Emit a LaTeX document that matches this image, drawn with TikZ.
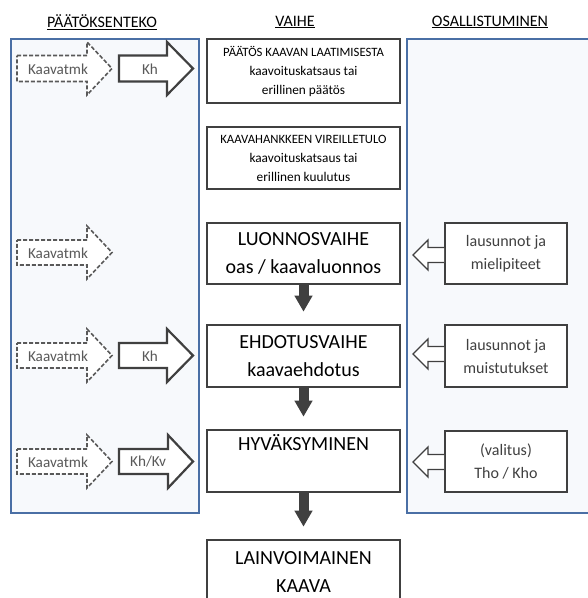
\documentclass[tikz,border=0pt]{standalone}
\usepackage{fontspec}
\setmainfont{Carlito}
\usetikzlibrary{arrows.meta}
\definecolor{panelfill}{HTML}{F7F9FC}
\definecolor{panelline}{HTML}{4A6FA5}
\definecolor{boxline}{HTML}{404040}
\definecolor{labelgray}{HTML}{595959}
\tikzset{
  panel/.style={draw=panelline, fill=panelfill, line width=1.6pt, inner sep=0pt},
  phasebox/.style={draw=boxline, fill=white, line width=2.6pt, inner sep=0pt, minimum width=193pt, align=center, text=black},
  smalltext/.style={font=\fontsize{13.3}{19}\selectfont},
  bigtext/.style={font=\fontsize{20}{28}\selectfont},
  partbox/.style={draw=boxline, fill=white, line width=2pt, inner sep=0pt, minimum width=122pt, align=center, text=boxline, font=\fontsize{16}{23}\selectfont},
  heading/.style={font=\fontsize{16}{18}\selectfont, text=black},
  arrlabel/.style={font=\fontsize{15.2}{17}\selectfont, text=labelgray, inner sep=0pt},
  solidblock/.style={draw=boxline, fill=white, line width=2.2pt, line join=miter},
  dashblock/.style={draw=labelgray, fill=white, line width=1.6pt, dashed, dash pattern=on 4pt off 2pt},
  hollowarr/.style={draw=boxline, fill=white, line width=1.3pt, line join=miter},
  downarr/.style={draw=boxline, line width=10pt, -{Triangle[width=17pt,length=16pt]}, shorten >=12pt}
}
\newcommand{\rightblock}[6]{% style, x-start, x-headbase, x-tip, y-center, shaft half height
  \path[#1] (#2,#5-#6) -- (#3,#5-#6) -- (#3,#5-26.5) -- (#4,#5) -- (#3,#5+26.5) -- (#3,#5+#6) -- (#2,#5+#6) -- cycle;}
\newcommand{\leftblock}[3]{% x-start (box), y-center, x-tip
  \path[hollowarr] (#1,#2-7.5) -- (428,#2-7.5) -- (428,#2-15) -- (#3,#2) -- (428,#2+15) -- (428,#2+7.5) -- (#1,#2+7.5);}
\newcommand{\capsline}[1]{{\fontsize{12.7}{19}\selectfont #1}}
\begin{document}
\begin{tikzpicture}[x=1pt,y=-1pt]
\useasboundingbox (0,0) rectangle (588,598);
\clip (0,0) rectangle (588,598);
\fill[white] (0,0) rectangle (588,598);
% headings
\node[heading] (h1) at (102,22) {\underline{PÄÄTÖKSENTEKO}};
\node[heading] (h2) at (295,22) {\underline{VAIHE}};
\node[heading] (h3) at (490,22) {\underline{OSALLISTUMINEN}};
% panels
\node[panel, minimum width=188pt, minimum height=474pt] (lp) at (105,276) {};
\node[panel, minimum width=190pt, minimum height=474pt] (rp) at (502,276) {};
% phase boxes
\node[phasebox, smalltext, minimum height=64pt] (b1) at (303.5,71)
  {\capsline{PÄÄTÖS KAAVAN LAATIMISESTA}\\kaavoituskatsaus tai\\erillinen päätös};
\node[phasebox, smalltext, minimum height=62pt] (b2) at (303.5,158)
  {\capsline{KAAVAHANKKEEN VIREILLETULO}\\kaavoituskatsaus tai\\erillinen kuulutus};
\node[phasebox, bigtext, minimum height=61pt] (b3) at (303.5,253.5)
  {LUONNOSVAIHE\\oas / kaavaluonnos};
\node[phasebox, bigtext, minimum height=62pt] (b4) at (303.5,356)
  {EHDOTUSVAIHE\\kaavaehdotus};
\node[phasebox, bigtext, minimum height=62pt] (b5) at (303.5,461)
  {HYVÄKSYMINEN\\\strut};
\node[phasebox, bigtext, minimum height=64pt] (b6) at (303.5,572)
  {LAINVOIMAINEN\\KAAVA};
% down arrows
\draw[downarr] (b3.south) -- (b4.north);
\draw[downarr] (b4.south) -- (b5.north);
\draw[downarr] (b5.south) -- (b6.north);
% participation boxes
\node[partbox, minimum height=61pt] (r1) at (506,253.5) {lausunnot ja\\mielipiteet};
\node[partbox, minimum height=62pt] (r2) at (506,356) {lausunnot ja\\muistutukset};
\node[partbox, minimum height=61pt] (r3) at (506,461.5) {(valitus)\\Tho / Kho};
\leftblock{444}{255}{413}
\leftblock{444}{354}{413}
\leftblock{444}{462}{413}
% decision arrows
\rightblock{dashblock}{17}{87}{112}{68.5}{13}
\rightblock{solidblock}{119}{167}{193}{68.5}{13}
\node[arrlabel] (k1) at (58,69) {Kaavatmk};
\node[arrlabel] (kh1) at (150,69) {Kh};
\rightblock{dashblock}{17}{87}{112}{252.5}{12.5}
\node[arrlabel] (k2) at (58,253) {Kaavatmk};
\rightblock{dashblock}{17}{87}{112}{355.5}{12.5}
\rightblock{solidblock}{119}{167}{193}{355.5}{12.5}
\node[arrlabel] (k3) at (58,356) {Kaavatmk};
\node[arrlabel] (kh3) at (150,356) {Kh};
\rightblock{dashblock}{17}{87}{112}{461.5}{12.5}
\rightblock{solidblock}{119}{168}{193}{461.5}{12.5}
\node[arrlabel] (k4) at (58,462) {Kaavatmk};
\node[arrlabel] (kh4) at (148,462) {Kh/Kv};
\end{tikzpicture}
\end{document}
